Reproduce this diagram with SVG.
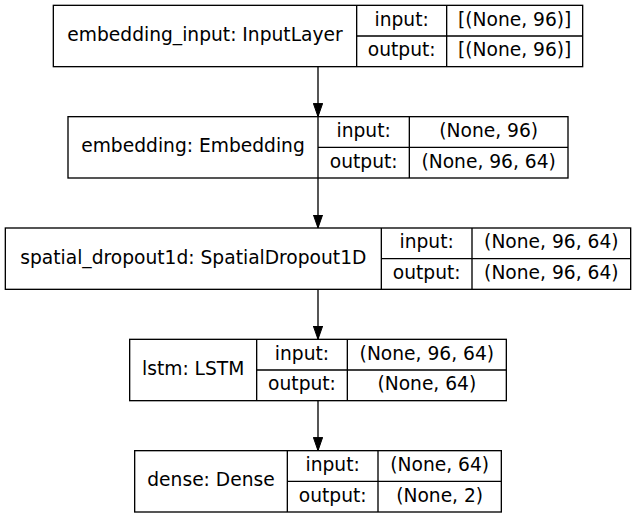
<svg xmlns="http://www.w3.org/2000/svg" width="636" height="516" viewBox="0 0 636 516">
<style>
.box{fill:#fff;stroke:#000;stroke-width:1.33}
.div{stroke:#000;stroke-width:1.33;fill:none}
text{font-family:"DejaVu Sans",sans-serif;font-size:18.67px;fill:#000;text-anchor:middle}
.edge{stroke:#000;stroke-width:1.33;fill:none}
</style>
<defs>
<marker id="arr" markerUnits="userSpaceOnUse" markerWidth="14" markerHeight="10" refX="13.33" refY="4.67" orient="auto">
<path d="M0,0 L13.33,4.67 L0,9.33 z" fill="#000" stroke="#000" stroke-width="1"/>
</marker>
</defs>
<rect width="636" height="516" fill="#fff"/>
<g id="connectors">
<line class="edge" x1="318" y1="66.67" x2="318" y2="116.67" marker-end="url(#arr)"/>
<line class="edge" x1="318" y1="178" x2="318" y2="228" marker-end="url(#arr)"/>
<line class="edge" x1="318" y1="289.33" x2="318" y2="339.33" marker-end="url(#arr)"/>
<line class="edge" x1="318" y1="400.67" x2="318" y2="450.67" marker-end="url(#arr)"/>
</g>
<g id="embedding_input">
<rect class="box" x="53.33" y="5.33" width="529.34" height="61.33"/>
<path class="div" d="M356.67,5.33 V66.67 M446.67,5.33 V66.67 M356.67,36 H582.67"/>
<text x="205" y="41">embedding_input: InputLayer</text>
<text x="401.67" y="25.6">input:</text>
<text x="401.67" y="56.3">output:</text>
<text x="514.67" y="25.6">[(None, 96)]</text>
<text x="514.67" y="56.3">[(None, 96)]</text>
</g>
<g id="embedding">
<rect class="box" x="68" y="116.67" width="500" height="61.33"/>
<path class="div" d="M318,116.67 V178 M409.33,116.67 V178 M318,147.33 H568"/>
<text x="193" y="152.4">embedding: Embedding</text>
<text x="363.67" y="137">input:</text>
<text x="363.67" y="167.7">output:</text>
<text x="488.67" y="137">(None, 96)</text>
<text x="488.67" y="167.7">(None, 96, 64)</text>
</g>
<g id="spatial_dropout1d">
<rect class="box" x="5.33" y="228" width="625.34" height="61.33"/>
<path class="div" d="M381.33,228 V289.33 M472,228 V289.33 M381.33,258.67 H630.67"/>
<text x="193.33" y="263.7">spatial_dropout1d: SpatialDropout1D</text>
<text x="426.67" y="248.3">input:</text>
<text x="426.67" y="279">output:</text>
<text x="551.33" y="248.3">(None, 96, 64)</text>
<text x="551.33" y="279">(None, 96, 64)</text>
</g>
<g id="lstm">
<rect class="box" x="129.67" y="339.33" width="376.66" height="61.34"/>
<path class="div" d="M256.67,339.33 V400.67 M347.33,339.33 V400.67 M256.67,370 H506.33"/>
<text x="193.17" y="375">lstm: LSTM</text>
<text x="302" y="359.6">input:</text>
<text x="302" y="390.3">output:</text>
<text x="426.83" y="359.6">(None, 96, 64)</text>
<text x="426.83" y="390.3">(None, 64)</text>
</g>
<g id="dense">
<rect class="box" x="134.67" y="450.67" width="366.66" height="61.33"/>
<path class="div" d="M287.33,450.67 V512 M378,450.67 V512 M287.33,481.33 H501.33"/>
<text x="211" y="486.4">dense: Dense</text>
<text x="332.67" y="471">input:</text>
<text x="332.67" y="501.7">output:</text>
<text x="439.67" y="471">(None, 64)</text>
<text x="439.67" y="501.7">(None, 2)</text>
</g>
</svg>
